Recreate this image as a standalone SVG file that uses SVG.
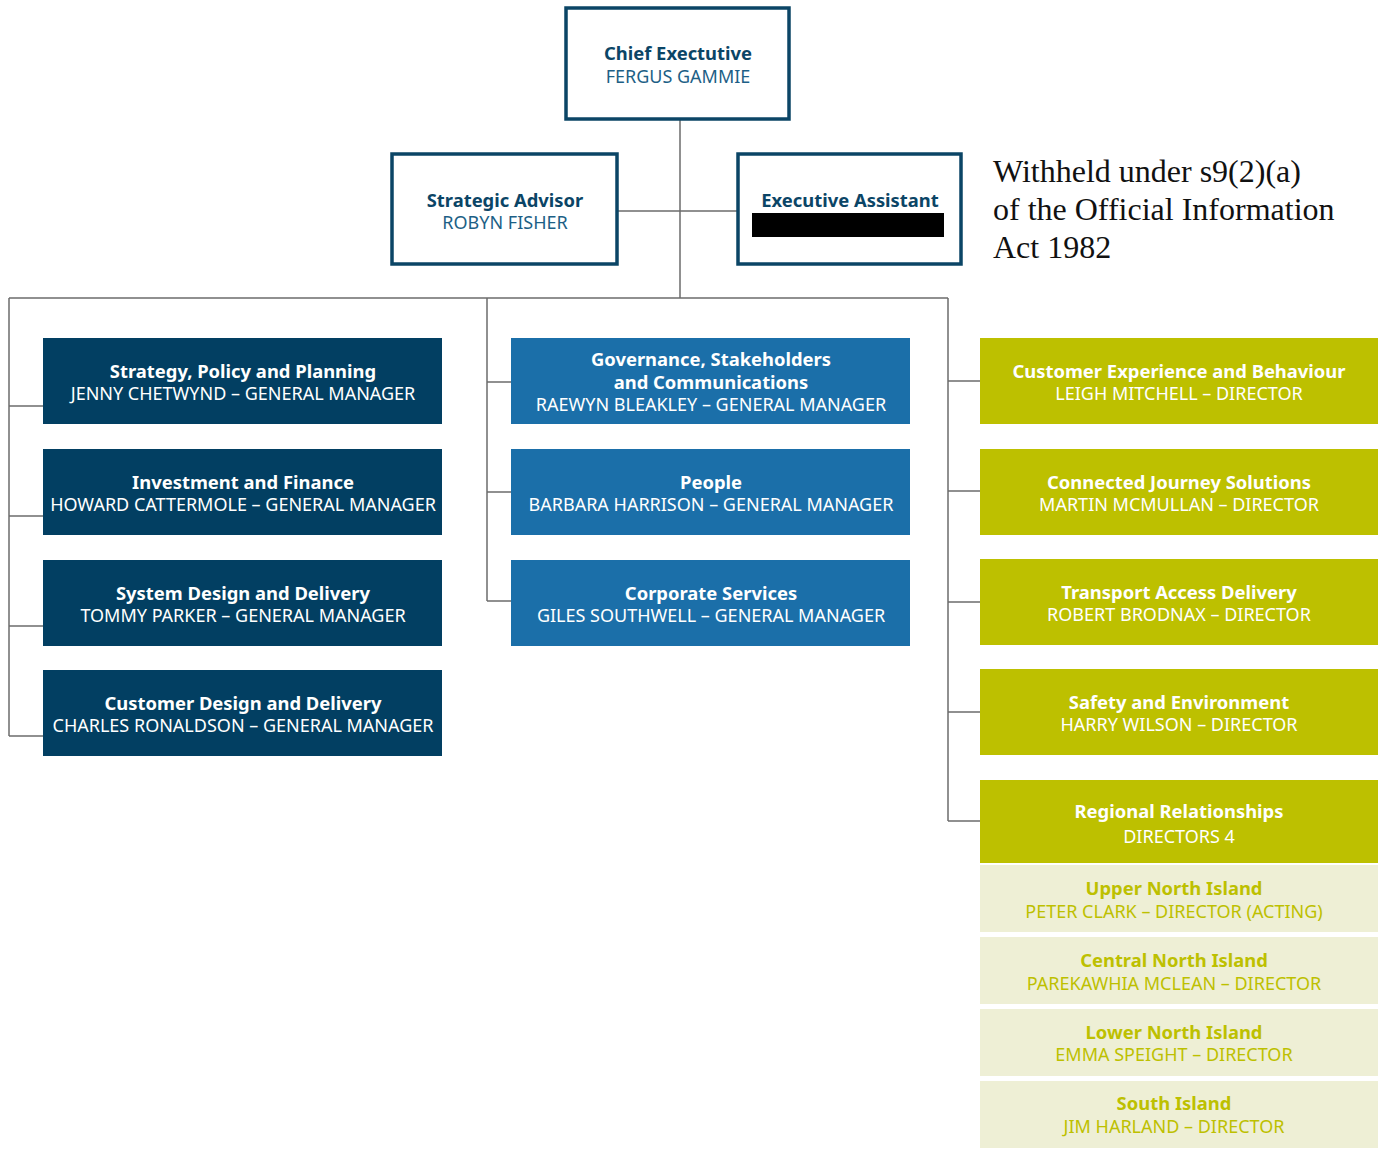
<svg xmlns="http://www.w3.org/2000/svg" width="1386" height="1149" viewBox="0 0 1386 1149">
<style>
text{font-family:"Noto Sans","Open Sans",sans-serif;text-anchor:middle}
.t{font-weight:700;font-size:18.4px}
.s{font-size:18px}
.w{fill:#ffffff}
.top rect.b{fill:#ffffff;stroke:#0b4566;stroke-width:3.5}
.top .t{fill:#0b4566}
.top .s{fill:#1d5f86}
.dk{fill:#023f62}
.md{fill:#1b6fa9}
.gr{fill:#bdc000}
.lt{fill:#eeefd5}
.ltx{fill:#bdc000}
.conn line{stroke:#6b6b6b;stroke-width:1.5}
.note{font-family:"Liberation Serif",serif;font-size:32px;text-anchor:start;fill:#111}
</style>
<g class="conn">
<line x1="680" y1="120" x2="680" y2="298"/>
<line x1="618" y1="211" x2="737" y2="211"/>
<line x1="9" y1="298" x2="948" y2="298"/>
<line x1="9" y1="298" x2="9" y2="736"/>
<line x1="9" y1="406" x2="43" y2="406"/>
<line x1="9" y1="516" x2="43" y2="516"/>
<line x1="9" y1="626" x2="43" y2="626"/>
<line x1="9" y1="736" x2="43" y2="736"/>
<line x1="487" y1="298" x2="487" y2="601"/>
<line x1="487" y1="382" x2="511" y2="382"/>
<line x1="487" y1="492" x2="511" y2="492"/>
<line x1="487" y1="601" x2="511" y2="601"/>
<line x1="948" y1="298" x2="948" y2="821"/>
<line x1="948" y1="381" x2="980" y2="381"/>
<line x1="948" y1="491" x2="980" y2="491"/>
<line x1="948" y1="602" x2="980" y2="602"/>
<line x1="948" y1="712" x2="980" y2="712"/>
<line x1="948" y1="821" x2="980" y2="821"/>
</g>
<g id="chief" class="top"><rect class="b" x="566" y="8" width="223" height="111"/><text class="t" x="678" y="60">Chief Exectutive</text><text class="s" x="678" y="83">FERGUS GAMMIE</text></g>
<g id="advisor" class="top"><rect class="b" x="392" y="154" width="225" height="110"/><text class="t" x="505" y="207">Strategic Advisor</text><text class="s" x="505" y="229">ROBYN FISHER</text></g>
<g id="ea" class="top"><rect class="b" x="738" y="154" width="223" height="110"/><text class="t" x="850" y="207">Executive Assistant</text><rect x="752" y="213" width="192" height="24" fill="#000"/></g>
<g id="note"><text class="note" x="993" y="182">Withheld under s9(2)(a)</text><text class="note" x="993" y="220">of the Official Information</text><text class="note" x="993" y="258">Act 1982</text></g>

<g id="spp"><rect class="dk" x="43" y="338" width="399" height="86"/><text class="t w" x="243" y="378">Strategy, Policy and Planning</text><text class="s w" x="243" y="400">JENNY CHETWYND – GENERAL MANAGER</text></g>
<g id="inf"><rect class="dk" x="43" y="449" width="399" height="86"/><text class="t w" x="243" y="489">Investment and Finance</text><text class="s w" x="243" y="511">HOWARD CATTERMOLE – GENERAL MANAGER</text></g>
<g id="sdd"><rect class="dk" x="43" y="560" width="399" height="86"/><text class="t w" x="243" y="600">System Design and Delivery</text><text class="s w" x="243" y="622">TOMMY PARKER – GENERAL MANAGER</text></g>
<g id="cdd"><rect class="dk" x="43" y="670" width="399" height="86"/><text class="t w" x="243" y="710">Customer Design and Delivery</text><text class="s w" x="243" y="732">CHARLES RONALDSON – GENERAL MANAGER</text></g>

<g id="gsc"><rect class="md" x="511" y="338" width="399" height="86"/><text class="t w" x="711" y="366">Governance, Stakeholders</text><text class="t w" x="711" y="389">and Communications</text><text class="s w" x="711" y="411">RAEWYN BLEAKLEY – GENERAL MANAGER</text></g>
<g id="people"><rect class="md" x="511" y="449" width="399" height="86"/><text class="t w" x="711" y="489">People</text><text class="s w" x="711" y="511">BARBARA HARRISON – GENERAL MANAGER</text></g>
<g id="corp"><rect class="md" x="511" y="560" width="399" height="86"/><text class="t w" x="711" y="600">Corporate Services</text><text class="s w" x="711" y="622">GILES SOUTHWELL – GENERAL MANAGER</text></g>

<g id="ceb"><rect class="gr" x="980" y="338" width="398" height="86"/><text class="t w" x="1179" y="378">Customer Experience and Behaviour</text><text class="s w" x="1179" y="400">LEIGH MITCHELL – DIRECTOR</text></g>
<g id="cjs"><rect class="gr" x="980" y="449" width="398" height="86"/><text class="t w" x="1179" y="489">Connected Journey Solutions</text><text class="s w" x="1179" y="511">MARTIN MCMULLAN – DIRECTOR</text></g>
<g id="tad"><rect class="gr" x="980" y="559" width="398" height="86"/><text class="t w" x="1179" y="599">Transport Access Delivery</text><text class="s w" x="1179" y="621">ROBERT BRODNAX – DIRECTOR</text></g>
<g id="se"><rect class="gr" x="980" y="669" width="398" height="86"/><text class="t w" x="1179" y="709">Safety and Environment</text><text class="s w" x="1179" y="731">HARRY WILSON – DIRECTOR</text></g>
<g id="rr"><rect class="gr" x="980" y="780" width="398" height="83"/><text class="t w" x="1179" y="818">Regional Relationships</text><text class="s w" x="1179" y="843">DIRECTORS 4</text></g>
<g id="uni"><rect class="lt" x="980" y="865" width="398" height="67"/><text class="t ltx" x="1174" y="895">Upper North Island</text><text class="s ltx" x="1174" y="918">PETER CLARK – DIRECTOR (ACTING)</text></g>
<g id="cni"><rect class="lt" x="980" y="937" width="398" height="67"/><text class="t ltx" x="1174" y="967">Central North Island</text><text class="s ltx" x="1174" y="990">PAREKAWHIA MCLEAN – DIRECTOR</text></g>
<g id="lni"><rect class="lt" x="980" y="1009" width="398" height="67"/><text class="t ltx" x="1174" y="1039">Lower North Island</text><text class="s ltx" x="1174" y="1061">EMMA SPEIGHT – DIRECTOR</text></g>
<g id="si"><rect class="lt" x="980" y="1081" width="398" height="67"/><text class="t ltx" x="1174" y="1110">South Island</text><text class="s ltx" x="1174" y="1133">JIM HARLAND – DIRECTOR</text></g>
</svg>
